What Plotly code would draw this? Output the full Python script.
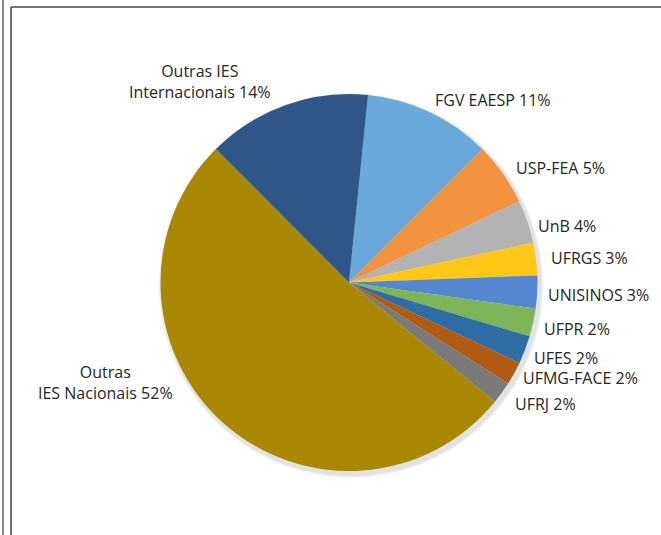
import plotly.graph_objects as go

W, H = 661, 535

# ---- data ----
categories = ["FGV EAESP", "USP-FEA", "UnB", "UFRGS", "UNISINOS", "UFPR",
              "UFES", "UFMG-FACE", "UFRJ", "Outras IES Nacionais",
              "Outras IES Internacionais"]
label_text = ["FGV EAESP", "USP-FEA", "UnB", "UFRGS", "UNISINOS", "UFPR",
              "UFES", "UFMG-FACE", "UFRJ", "Outras<br>IES Nacionais",
              "Outras IES<br>Internacionais"]
shares = [10.9, 5.4, 3.7, 2.8, 2.8, 2.4, 2.4, 2.0, 1.9, 51.6, 14.1]
colors = ["#6AA9DC", "#F3933F", "#B3B3B3", "#FFC718", "#5586D0", "#7CB45A",
          "#2E6DA5", "#B05A12", "#7A7A7A", "#A98800", "#30578A"]

# ---- layout geometry (pixels) ----
cx, cy, r = 349, 282.5, 188.5

def px(x):
    return x / W

def py(y):
    return 1 - y / H

total = sum(shares)
pct = [f"{round(v / total * 100)}%" for v in shares]

fig = go.Figure()

fig.add_trace(go.Pie(
    labels=categories,
    values=shares,
    sort=False,
    direction="clockwise",
    rotation=5.8,
    marker=dict(colors=colors, line=dict(width=0)),
    textinfo="none",
    hoverinfo="label+percent",
    showlegend=False,
    domain=dict(x=[px(cx - r), px(cx + r)], y=[py(cy + r), py(cy - r)]),
))

# soft shadow beneath pie
for i, a in enumerate([0.035, 0.035, 0.045]):
    g = 4 - i
    fig.add_shape(type="circle", xref="paper", yref="paper", layer="below",
                  x0=px(cx - r - g + 2), x1=px(cx + r + g + 2),
                  y0=py(cy + r + g + 3), y1=py(cy - r - g + 3),
                  fillcolor=f"rgba(0,0,0,{a})", line=dict(width=0))

# frame lines
fig.add_shape(type="line", xref="paper", yref="paper", x0=px(3), x1=px(3), y0=0, y1=1,
              line=dict(color="#8a8a8a", width=2))
fig.add_shape(type="line", xref="paper", yref="paper", x0=px(11), x1=px(11), y0=0, y1=py(7),
              line=dict(color="#444444", width=1.5))
fig.add_shape(type="line", xref="paper", yref="paper", x0=px(11), x1=1, y0=py(7), y1=py(7),
              line=dict(color="#444444", width=1.5))

# label positions (pixels): x, y, anchor
label_pos = [
    (433, 99, "left"),
    (514, 167.5, "left"),
    (536, 225.5, "left"),
    (549, 257.5, "left"),
    (546, 294, "left"),
    (542, 328, "left"),
    (532, 357, "left"),
    (521, 377.5, "left"),
    (513, 403, "left"),
    (105.5, 382, "center"),
    (200, 81, "center"),
]

for t, p, (x, y, anc) in zip(label_text, pct, label_pos):
    single = "<br>" not in t
    fig.add_annotation(x=px(x), y=py(y), xref="paper", yref="paper",
                       text=f"{t} {p}", showarrow=False,
                       xanchor=anc, yanchor="middle", align="center",
                       height=19 if single else None, valign="middle",
                       font=dict(family="Open Sans", size=16, color="#262626"))

fig.update_layout(
    width=W, height=H,
    margin=dict(l=0, r=0, t=0, b=0),
    paper_bgcolor="white",
    plot_bgcolor="white",
)

fig.write_html("out.html", config={"displayModeBar": False},
               post_script="document.body.style.margin='0';")
